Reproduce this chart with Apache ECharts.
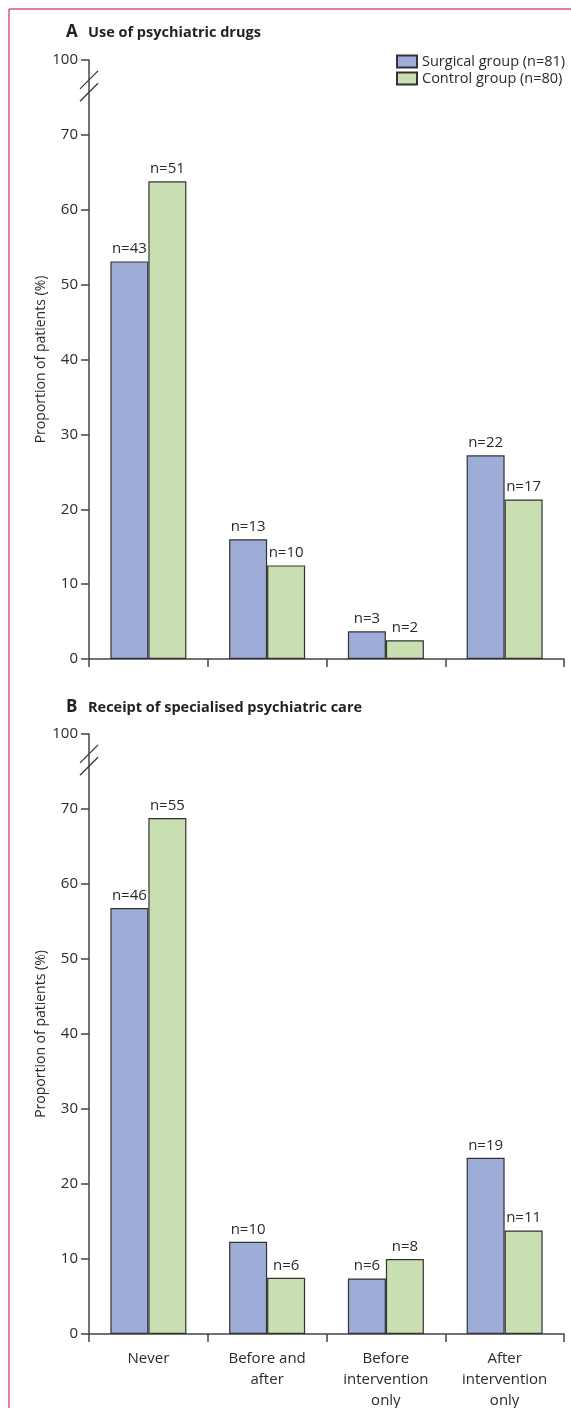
<!DOCTYPE html>
<html><head><meta charset="utf-8">
<script src="https://cdn.jsdelivr.net/npm/echarts@6/dist/echarts.min.js"></script>
<style>html,body{margin:0;padding:0;background:#fff}#c{width:571px;height:1408px}</style>
</head><body><div id="c"></div>
<script>
const categories = ['Never', 'Before and\nafter', 'Before\nintervention\nonly', 'After\nintervention\nonly'];
const seriesNames = ['Surgical group (n=81)', 'Control group (n=80)'];
// Panel A: Use of psychiatric drugs (% of patients) and counts
const drugsSurgical = [53.1, 16.0, 3.7, 27.2];
const drugsControl = [63.8, 12.5, 2.5, 21.3];
const drugsSurgicalN = [43, 13, 3, 22];
const drugsControlN = [51, 10, 2, 17];
// Panel B: Receipt of specialised psychiatric care
const careSurgical = [56.8, 12.3, 7.4, 23.5];
const careControl = [68.8, 7.5, 10.0, 13.8];
const careSurgicalN = [46, 10, 6, 19];
const careControlN = [55, 6, 8, 11];
const yTicks = [0, 10, 20, 30, 40, 50, 60, 70, 80];
const yTopLabel = '100';
const titles = [['A', 'Use of psychiatric drugs'], ['B', 'Receipt of specialised psychiatric care']];
const yName = 'Proportion of patients (%)';

const FONT = 'Open Sans';
const TXT = '#2a2a2a';
const BLUE = '#9eadd7';
const GREEN = '#c9dfb2';
const grids = [
  {left: 89, top: 60, width: 475, height: 599, outerBoundsMode: 'none', containLabel: false},
  {left: 89, top: 734, width: 475, height: 600, outerBoundsMode: 'none', containLabel: false}
];

function yAxis(i) {
  return {
    gridIndex: i, type: 'value', min: 0, max: 80, interval: 10,
    name: yName, nameLocation: 'middle', nameGap: 41, nameMoveOverlap: false,
    nameTextStyle: {fontFamily: FONT, fontSize: 14, color: TXT},
    axisLine: {show: true, lineStyle: {color: '#444', width: 1.5}},
    axisTick: {show: true, length: 8, lineStyle: {color: '#444', width: 1.5}},
    axisLabel: {margin: 11, fontFamily: FONT, fontSize: 15, color: TXT,
      formatter: v => v === 80 ? yTopLabel : String(v)},
    splitLine: {show: false}
  };
}
function xAxis(i, showLabels) {
  return {
    gridIndex: i, type: 'category', data: categories,
    axisLine: {show: true, lineStyle: {color: '#444', width: 1.5}},
    axisTick: {show: true, length: 8, alignWithLabel: false, lineStyle: {color: '#444', width: 1.5}},
    axisLabel: {show: showLabels, margin: 14, fontFamily: FONT, fontSize: 15, color: TXT, lineHeight: 21, interval: 0}
  };
}
function barSeries(name, data, counts, i, color) {
  return {
    name: name, type: 'bar', xAxisIndex: i, yAxisIndex: i, data: data,
    barWidth: 38, barGap: '0%',
    itemStyle: {color: color, borderColor: '#333', borderWidth: 1.2},
    label: {show: true, position: 'top', distance: 5, fontFamily: FONT, fontSize: 15, color: TXT,
      formatter: p => 'n=' + counts[p.dataIndex]},
    emphasis: {disabled: true}
  };
}

const chart = echarts.init(document.getElementById('c'), null, {renderer: 'canvas'});
chart.setOption({
  animation: false,
  backgroundColor: '#fff',
  grid: grids,
  xAxis: [xAxis(0, false), xAxis(1, true)],
  yAxis: [yAxis(0), yAxis(1)],
  legend: {
    data: seriesNames.map(n => ({name: n, icon: 'rect'})), orient: 'vertical', left: 396, top: 54, padding: 0,
    itemWidth: 20, itemHeight: 12, itemGap: 2,
    textStyle: {fontFamily: FONT, fontSize: 14.5, color: TXT},
    selectedMode: false
  },
  series: [
    barSeries(seriesNames[0], drugsSurgical, drugsSurgicalN, 0, BLUE),
    barSeries(seriesNames[1], drugsControl, drugsControlN, 0, GREEN),
    barSeries(seriesNames[0], careSurgical, careSurgicalN, 1, BLUE),
    barSeries(seriesNames[1], careControl, careControlN, 1, GREEN)
  ]
});

// decorations: frame, titles, axis break marks
const g = [];
g.push({type: 'line', shape: {x1: 9, y1: 9, x2: 9, y2: 1408}, style: {stroke: '#d8567c', lineWidth: 1.5}});
g.push({type: 'line', shape: {x1: 9, y1: 9, x2: 571, y2: 9}, style: {stroke: '#d8567c', lineWidth: 1.5}});
const titleY = [32, 707];
titles.forEach((t, i) => {
  g.push({type: 'text', x: 66, y: titleY[i], style: {text: t[0], fontFamily: FONT, fontWeight: 'bold', fontSize: 17, fill: '#222', verticalAlign: 'middle'}});
  g.push({type: 'text', x: 88, y: titleY[i] + 1, style: {text: t[1], fontFamily: FONT, fontWeight: 'bold', fontSize: 14.5, fill: '#222', verticalAlign: 'middle'}});
});
[0, 1].forEach(i => {
  const x = grids[i].left;
  [77.35, 75.7].forEach(v => {
    const y = chart.convertToPixel({yAxisIndex: i}, v);
    g.push({type: 'line', shape: {x1: x - 9, y1: y + 9, x2: x + 9, y2: y - 9}, style: {stroke: '#333', lineWidth: 1.3}});
  });
});
chart.setOption({graphic: g});
</script></body></html>
